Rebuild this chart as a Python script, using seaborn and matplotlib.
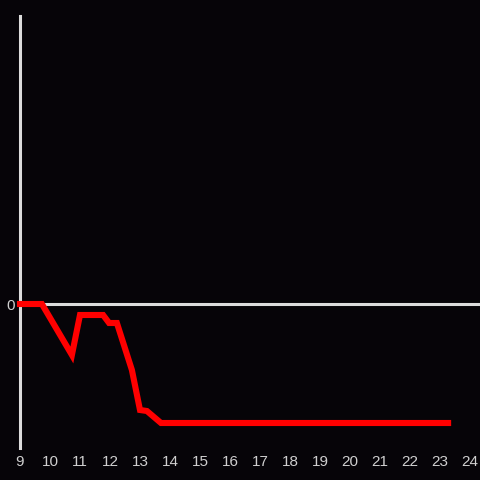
import pandas as pd
import seaborn as sns
import matplotlib.pyplot as plt

# hour of day vs. value
hours = [9.0, 9.73, 10.73, 11.0, 11.77, 11.97, 12.23, 12.73, 13.0, 13.23, 13.7, 23.27]
values = [0, 0, -51, -11, -11, -19, -19, -66, -106, -107, -119, -119]
x_ticks = list(range(9, 25))

bg = "#060408"
fg = "#dcdcdc"

sns.set_style("dark")
plt.rcParams["font.family"] = ["Liberation Sans", "DejaVu Sans"]

df = pd.DataFrame({"hour": hours, "value": values})

fig = plt.figure(figsize=(4.8, 4.8), dpi=100, facecolor=bg)
ax = fig.add_axes([20 / 480, 32 / 480, 460 / 480, 432 / 480])
ax.set_facecolor(bg)

ax.axhline(0, color=fg, lw=2.2, zorder=1)
sns.lineplot(data=df, x="hour", y="value", ax=ax, color="#ff0000", lw=4.4,
             solid_capstyle="projecting", solid_joinstyle="miter",
             clip_on=False, zorder=5)

ax.set_xlim(9, 9 + 460 / 30)
ax.set_ylim(-144, 288)
ax.set_xticks(x_ticks)
ax.set_yticks([0])
ax.set_xlabel("")
ax.set_ylabel("")
ax.grid(False)

for side in ["top", "right", "bottom"]:
    ax.spines[side].set_visible(False)
ax.spines["left"].set_color(fg)
ax.spines["left"].set_linewidth(2.2)
ax.spines["left"].set_zorder(2)

ax.tick_params(axis="both", length=0, colors="#cfcfcf", labelsize=11)
ax.tick_params(axis="x", pad=5)
ax.tick_params(axis="y", pad=4)

fig.savefig("out.png", dpi=100, facecolor=bg)
